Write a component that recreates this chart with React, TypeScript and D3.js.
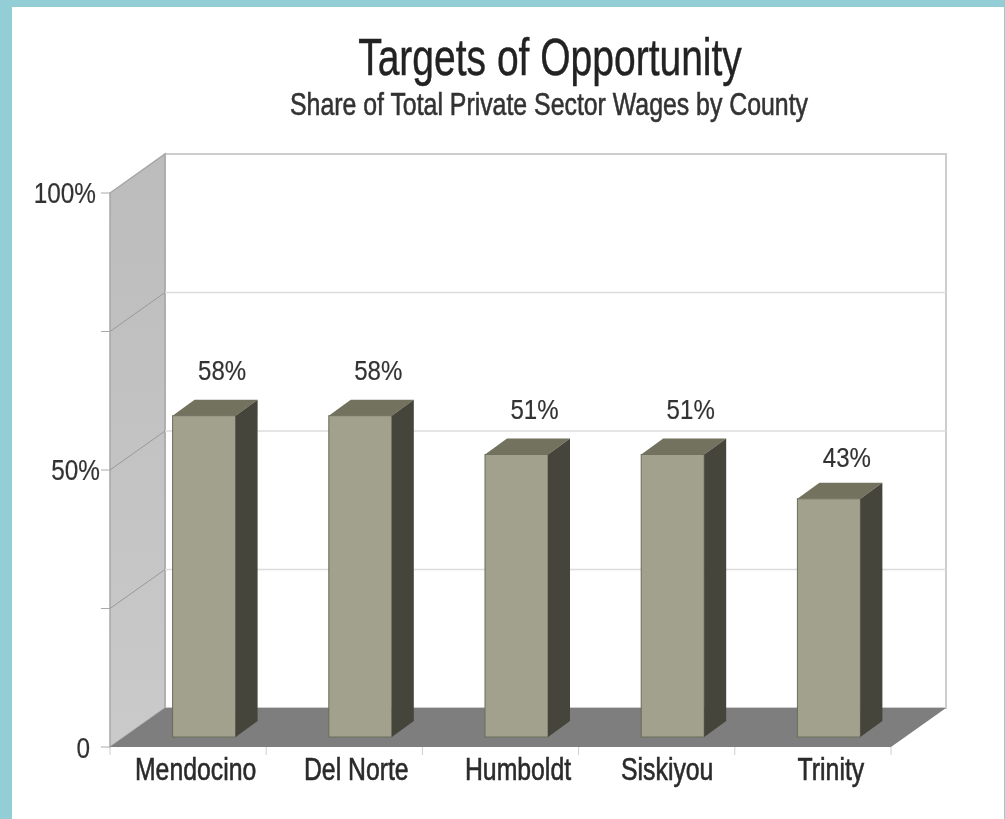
import type { ReactNode } from 'react';
import * as d3 from 'd3';

const counties = ['Mendocino', 'Del Norte', 'Humboldt', 'Siskiyou', 'Trinity'];
const shares = [58, 58, 51, 51, 43];
const gridTicks = [0, 25, 50, 75, 100];
const tickLabels: Record<number, string> = { 0: '0', 50: '50%', 100: '100%' };

const title = 'Targets of Opportunity';
const subtitle = 'Share of Total Private Sector Wages by County';

const width = 1005;
const height = 819;
const FONT = '"Liberation Sans", sans-serif';

// 3D box offsets
const depth = { x: 55, y: -39 };
const barShift = { x: 16, y: -10 };
const barDepth = { x: 22, y: -16 };
const barWidth = 63;

// hand placement of labels, the original was set by hand too
const categoryNudge = [7.5, 12, 17.5, 10.5, 18];
const valueNudge = [-1, -1, 0, 0, 3];
const tickLabelRight: Record<number, number> = { 0: 90, 50: 100, 100: 96 };

const xScale = d3.scaleBand<string>().domain(counties).range([110, 891]);
const yScale = d3.scaleLinear().domain([0, 100]).range([747, 193]);

const poly = (pts: [number, number][]) => pts.map((p) => p.join(',')).join(' ');

// no condensed face is installed, so squeeze the regular one horizontally
const Narrow = ({
  x,
  y,
  sx,
  size,
  fill,
  weight = 0.4,
  anchor = 'middle',
  children,
}: {
  x: number;
  y: number;
  sx: number;
  size: number;
  fill: string;
  weight?: number;
  anchor?: 'middle' | 'end';
  children: ReactNode;
}) => (
  <text
    transform={`translate(${x},${y}) scale(${sx},1)`}
    textAnchor={anchor}
    fontSize={size}
    fill={fill}
    stroke={fill}
    strokeWidth={weight}
  >
    {children}
  </text>
);

const Bar = ({ county, value, nudge }: { county: string; value: number; nudge: number }) => {
  const x0 = (xScale(county) as number) + xScale.bandwidth() / 2 - barWidth / 2 + barShift.x;
  const x1 = x0 + barWidth;
  const yTop = yScale(value) + barShift.y;
  const yBottom = yScale(0) + barShift.y;
  return (
    <g>
      <rect x={x0} y={yTop} width={barWidth} height={yBottom - yTop} fill="#a2a18e" stroke="#6c6c5a" strokeWidth={1} />
      <polygon
        points={poly([
          [x0, yTop],
          [x0 + barDepth.x, yTop + barDepth.y],
          [x1 + barDepth.x, yTop + barDepth.y],
          [x1, yTop],
        ])}
        fill="#72725f"
      />
      <polygon
        points={poly([
          [x1, yTop],
          [x1 + barDepth.x, yTop + barDepth.y],
          [x1 + barDepth.x, yBottom + barDepth.y],
          [x1, yBottom],
        ])}
        fill="#45453a"
      />
      <Narrow x={x0 + barWidth / 2 + 18} y={yScale(value) - 45 + nudge} sx={0.86} size={28} fill="#333" weight={0.2}>
        {value}%
      </Narrow>
    </g>
  );
};

export default function App() {
  const left = xScale.range()[0];
  const right = xScale.range()[1];
  const y0 = yScale(0);
  const y100 = yScale(100);
  const xTicks = [...counties.map((c) => xScale(c) as number), right];

  return (
    <svg
      width={width}
      height={height}
      style={{ position: 'absolute', left: 0, top: 0, background: '#fff' }}
      fontFamily={FONT}
    >
      <defs>
        <linearGradient id="wall" x1="0" y1="0" x2="0" y2="1">
          <stop offset="0%" stopColor="#bcbcbc" />
          <stop offset="100%" stopColor="#cacaca" />
        </linearGradient>
        <filter id="soft" x="-2%" y="-2%" width="104%" height="104%">
          <feGaussianBlur stdDeviation="0.6" />
        </filter>
      </defs>

      {/* page frame */}
      <rect x={0} y={0} width={width} height={height} fill="#fff" />
      <rect x={0} y={0} width={12} height={height} fill="#93cdd6" />
      <rect x={0} y={0} width={width} height={7} fill="#93cdd6" />
      <rect x={width - 1} y={0} width={1} height={height} fill="#93cdd6" />

      <g filter="url(#soft)">
        <Narrow x={550} y={75} sx={0.765} size={51} fill="#222">
          {title}
        </Narrow>
        <Narrow x={549} y={115} sx={0.777} size={32} fill="#333" weight={0.6}>
          {subtitle}
        </Narrow>

        {/* back wall */}
        <rect
          x={left + depth.x}
          y={y100 + depth.y}
          width={right - left}
          height={y0 - y100}
          fill="#fff"
          stroke="#cdcdcd"
          strokeWidth={2}
        />

        {/* side wall */}
        <polygon
          points={poly([
            [left, y100],
            [left + depth.x, y100 + depth.y],
            [left + depth.x, y0 + depth.y],
            [left, y0],
          ])}
          fill="url(#wall)"
          stroke="#a6a6a6"
          strokeWidth={1.5}
        />

        {/* gridlines and y ticks */}
        {gridTicks.map((t) => (
          <g key={t}>
            {t > 0 && t < 100 && (
              <>
                <line
                  x1={left + depth.x}
                  x2={right + depth.x}
                  y1={yScale(t) + depth.y}
                  y2={yScale(t) + depth.y}
                  stroke="#dcdcdc"
                  strokeWidth={1.5}
                />
                <line
                  x1={left}
                  x2={left + depth.x}
                  y1={yScale(t)}
                  y2={yScale(t) + depth.y}
                  stroke="#999"
                  strokeWidth={1}
                />
              </>
            )}
            <line x1={left - 9} x2={left} y1={yScale(t)} y2={yScale(t)} stroke="#aaa" strokeWidth={1} />
            {tickLabels[t] && (
              <Narrow
                x={tickLabelRight[t]}
                y={yScale(t) + (t === 0 ? 11 : 10)}
                sx={0.84}
                size={29}
                fill="#333"
                weight={0.2}
                anchor="end"
              >
                {tickLabels[t]}
              </Narrow>
            )}
          </g>
        ))}

        {/* floor */}
        <polygon
          points={poly([
            [left, y0],
            [left + depth.x, y0 + depth.y],
            [right + depth.x, y0 + depth.y],
            [right, y0],
          ])}
          fill="#7e7e7e"
        />

        {/* x ticks */}
        {xTicks.map((x) => (
          <line key={x} x1={x} x2={x} y1={y0} y2={y0 + 8} stroke="#cfcfcf" strokeWidth={1} />
        ))}

        {counties.map((c, i) => (
          <Bar key={c} county={c} value={shares[i]} nudge={valueNudge[i]} />
        ))}

        {counties.map((c, i) => (
          <Narrow
            key={c}
            x={(xScale(c) as number) + xScale.bandwidth() / 2 + categoryNudge[i]}
            y={y0 + 33}
            sx={0.8}
            size={31}
            fill="#2a2a2a"
            weight={0.6}
          >
            {c}
          </Narrow>
        ))}
      </g>
    </svg>
  );
}
